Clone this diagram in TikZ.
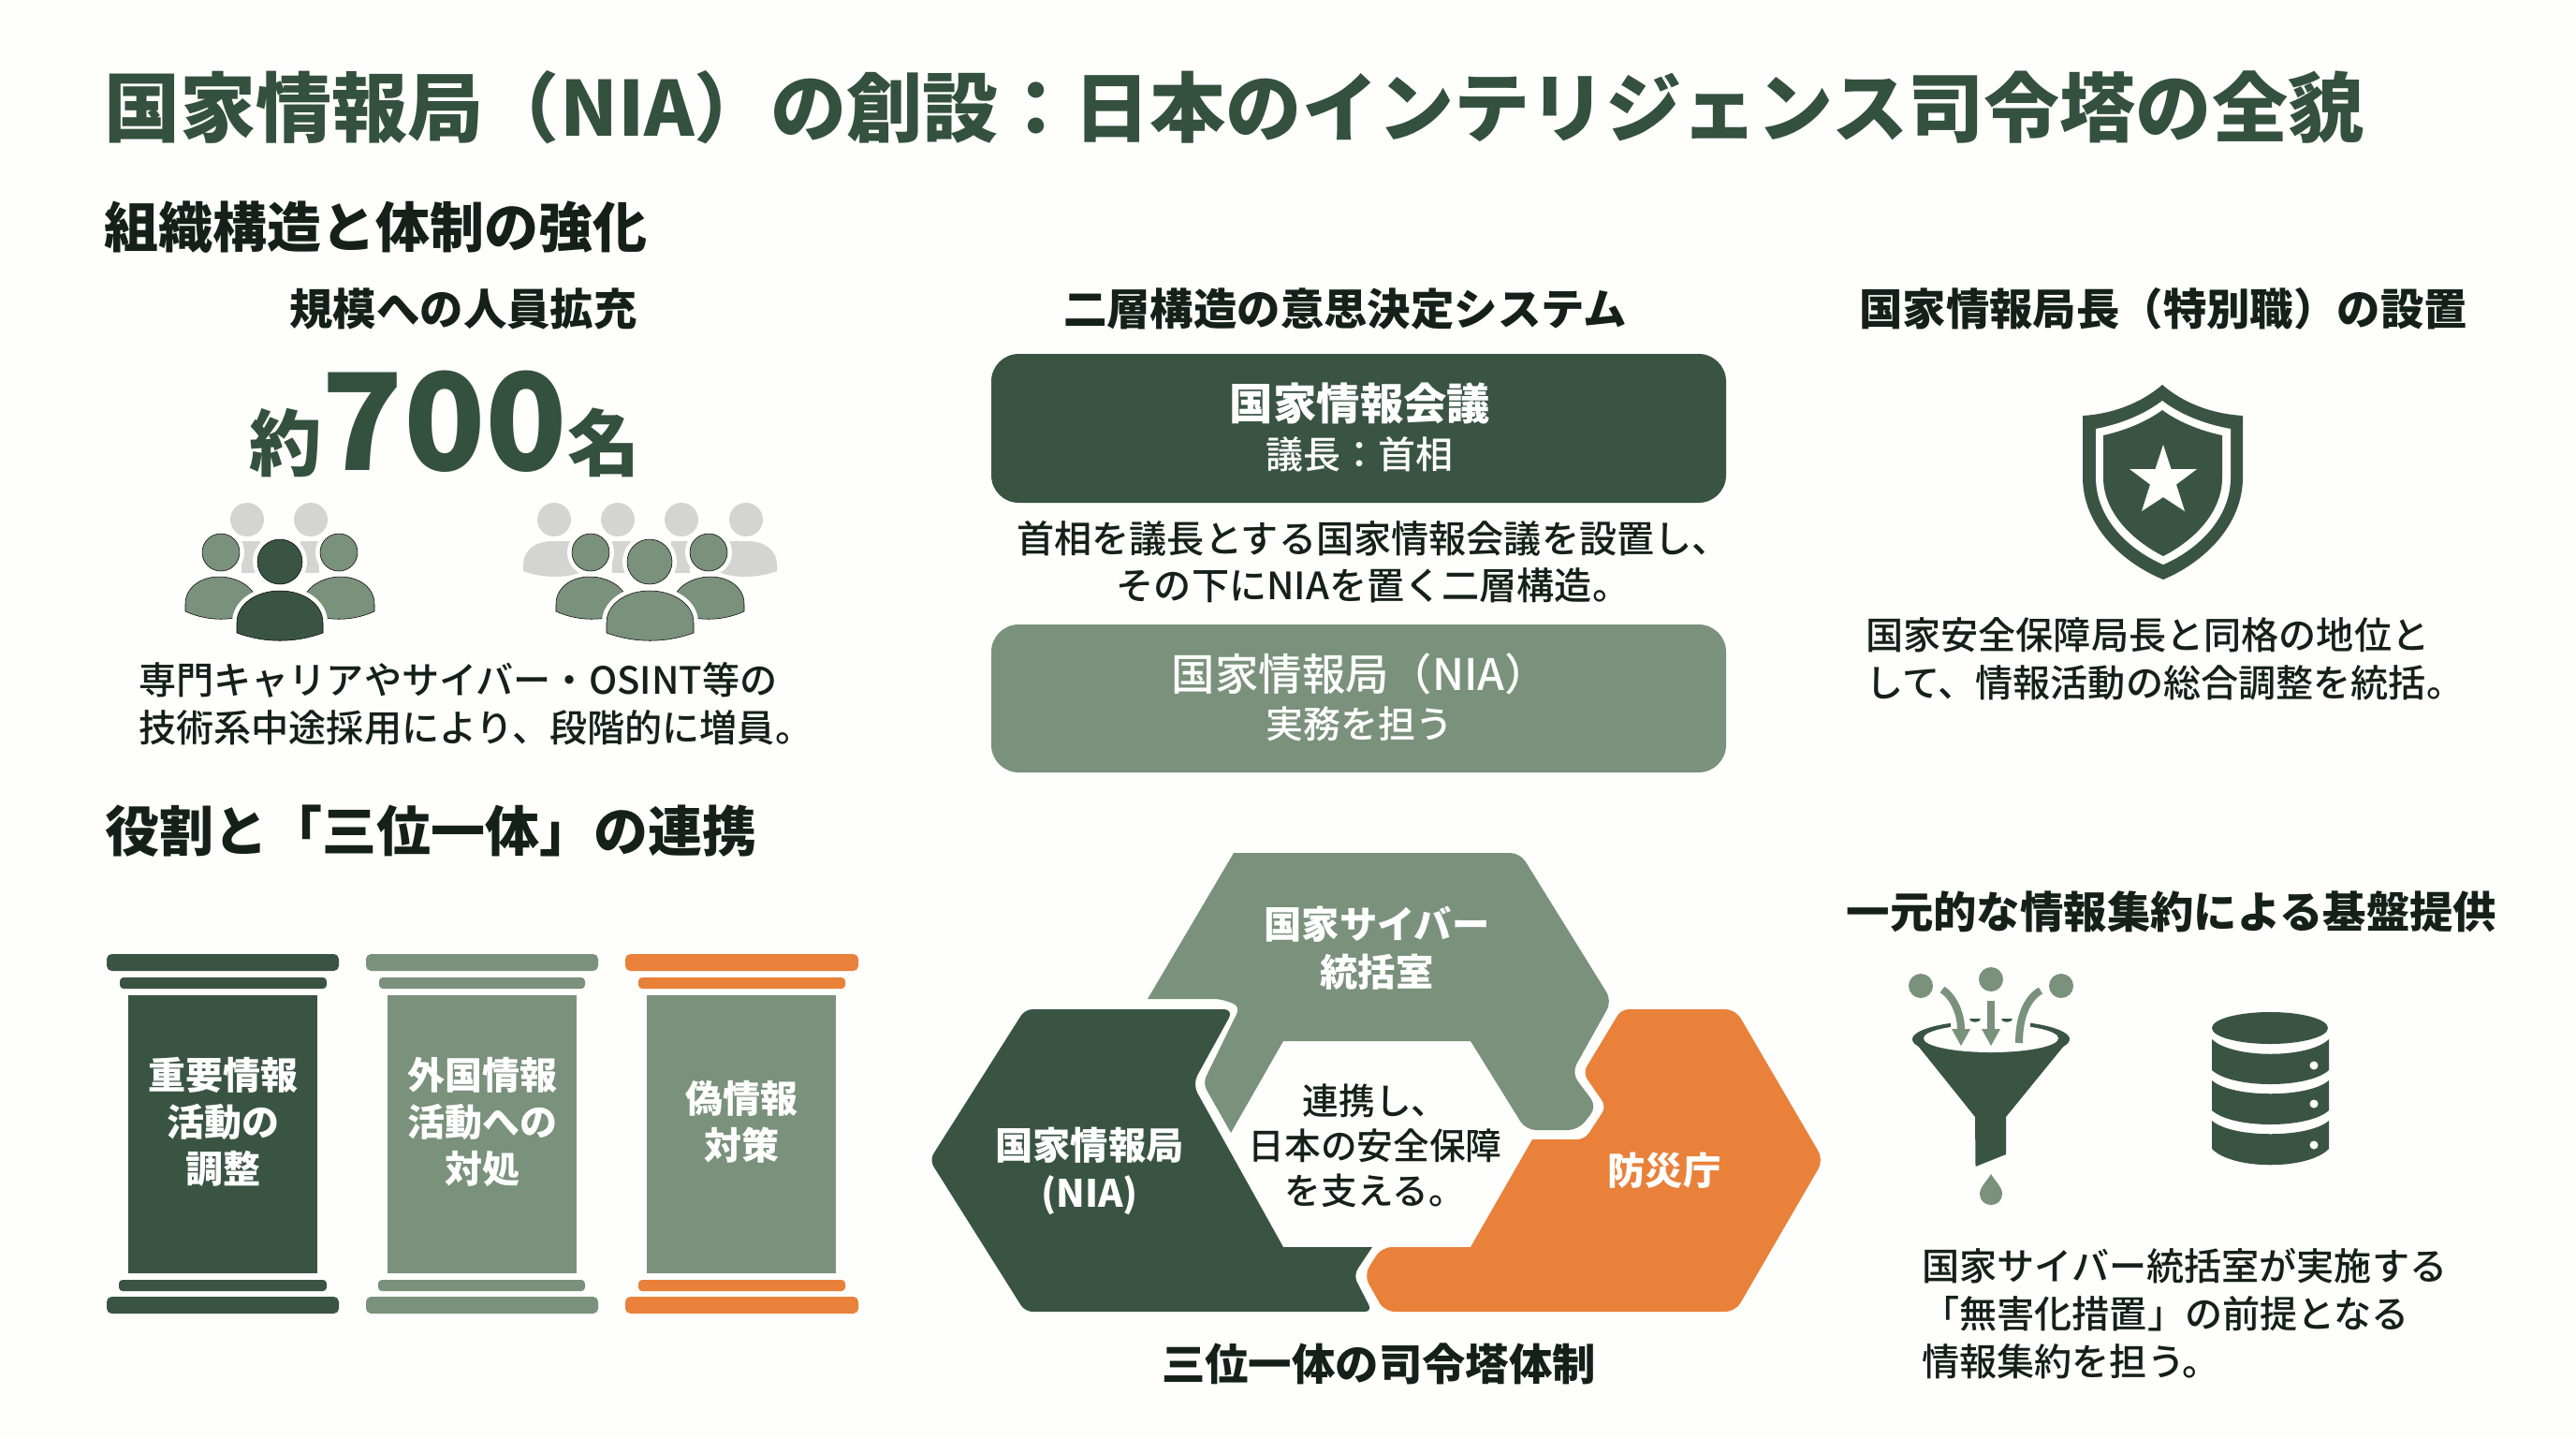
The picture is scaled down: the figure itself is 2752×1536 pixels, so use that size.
\documentclass[tikz,border=0pt]{standalone}
\usepackage{fontspec}
\setmainfont{Noto Sans CJK JP}
\newfontfamily\medfont{Noto Sans CJK JP Medium}
\usepackage{xcolor}
\definecolor{niapaper}{HTML}{FEFEFC}
\definecolor{niadark}{HTML}{3A5444}
\definecolor{niamid}{HTML}{7A917C}
\definecolor{niaorange}{HTML}{E9813A}
\definecolor{niagray}{HTML}{D4D4D2}
\definecolor{nialtitle}{HTML}{34503F}
\definecolor{niaink}{HTML}{15201B}
\tikzset{
  titletext/.style={anchor=west,inner sep=0.75pt,text=nialtitle,font=\bfseries\fontsize{60.85}{70}\selectfont},
  sectiontext/.style={anchor=west,inner sep=0.75pt,text=niaink,font=\bfseries\fontsize{43.5}{50}\selectfont},
  headtext/.style={inner sep=0.75pt,text=niaink,font=\bfseries\fontsize{34.8}{42}\selectfont},
  bodytext/.style={inner sep=0.75pt,text=niaink,font=\medfont\fontsize{30.1}{38}\selectfont},
  boxhead/.style={inner sep=0.75pt,text=white,font=\bfseries\fontsize{34.8}{42}\selectfont},
  boxsub/.style={inner sep=0.75pt,text=white,font=\medfont\fontsize{30}{38}\selectfont},
  pillartext/.style={inner sep=0.75pt,align=center,text=white,font=\bfseries\fontsize{30}{37.5}\selectfont},
  hextext/.style={inner sep=0.75pt,align=center,text=white,font=\bfseries\fontsize{30.2}{38}\selectfont},
  ringdark/.style={fill=niadark,preaction={draw=niapaper,line width=7.5pt}},
  ringmid/.style={fill=niamid,preaction={draw=niapaper,line width=7.5pt}}
}
\begin{document}
\begin{tikzpicture}[x=0.75pt,y=0.75pt,yscale=-1,xscale=1]
        %Shape: Paper
        \fill [niapaper] (0,0) rectangle (2752,1536);
        \useasboundingbox (0,0) rectangle (2752,1536);

        % Text Node
        \draw (110,115) node (maintitle) [titletext] {国家情報局（NIA）の創設：日本のインテリジェンス司令塔の全貌};
        % Text Node
        \draw (110,243) node (orgsection) [sectiontext] {組織構造と体制の強化};
        % Text Node
        \draw (111,888) node (rolesection) [sectiontext] {役割と「三位一体」の連携};

        % Text Node
        \draw (495,330) node (stafftitle) [headtext] {規模への人員拡充};
        % Text Node
        \draw (475,502) node (staffcount) [anchor=base,inner sep=0.75pt,text=nialtitle,font=\bfseries] {\fontsize{58}{60}\selectfont 約\fontsize{108}{114}\selectfont 700\fontsize{58}{60}\selectfont 名};

        %Shape: People, left group, back row
        \fill [niagray] (264,555) circle (18);
        \fill [niagray] (332,555) circle (18);
        \fill [niagray] (258,578) rectangle (278,612);
        \fill [niagray] (321,578) rectangle (341,612);
        %Shape: People, left group, middle row
        \draw [ringmid] (236,590) circle (20);
        \draw [ringmid] (362,590) circle (20);
        \draw [ringmid] (198,653) -- (198,645) .. controls (198,628) and (214,616) .. (234,616) .. controls (254,616) and (274,628) .. (274,645) -- (274,653) .. controls (250,664) and (222,664) .. (198,653) -- cycle ;
        \draw [ringmid] (324,653) -- (324,645) .. controls (324,628) and (344,616) .. (364,616) .. controls (384,616) and (400,628) .. (400,645) -- (400,653) .. controls (376,664) and (348,664) .. (324,653) -- cycle ;
        %Shape: People, left group, front
        \draw [ringdark] (299,600) circle (24);
        \draw [ringdark] (253,676) -- (253,665) .. controls (253,645) and (274,631) .. (299,631) .. controls (324,631) and (345,645) .. (345,665) -- (345,676) .. controls (315,687) and (283,687) .. (253,676) -- cycle ;

        %Shape: People, right group, back row
        \fill [niagray] (592,555) circle (18);
        \fill [niagray] (660,555) circle (18);
        \fill [niagray] (728,555) circle (18);
        \fill [niagray] (797,555) circle (18);
        \fill [niagray] (654,578) rectangle (674,612);
        \fill [niagray] (717,578) rectangle (737,612);
        \fill [niagray] (559,610) -- (559,603) .. controls (559,588) and (572,578) .. (590,578) -- (610,578) -- (620,612) .. controls (600,618) and (578,617) .. (559,610) -- cycle ;
        \fill [niagray] (830,610) -- (830,603) .. controls (830,588) and (817,578) .. (799,578) -- (779,578) -- (769,612) .. controls (789,618) and (811,617) .. (830,610) -- cycle ;
        %Shape: People, right group, middle row
        \draw [ringmid] (631,590) circle (20);
        \draw [ringmid] (757,590) circle (20);
        \draw [ringmid] (594,653) -- (594,645) .. controls (594,628) and (610,616) .. (630,616) .. controls (650,616) and (670,628) .. (670,645) -- (670,653) .. controls (646,664) and (618,664) .. (594,653) -- cycle ;
        \draw [ringmid] (719,653) -- (719,645) .. controls (719,628) and (739,616) .. (759,616) .. controls (779,616) and (795,628) .. (795,645) -- (795,653) .. controls (771,664) and (743,664) .. (719,653) -- cycle ;
        %Shape: People, right group, front
        \draw [ringmid] (694,600) circle (24);
        \draw [ringmid] (648,676) -- (648,665) .. controls (648,645) and (669,631) .. (694,631) .. controls (719,631) and (741,645) .. (741,665) -- (741,676) .. controls (711,687) and (678,687) .. (648,676) -- cycle ;

        % Text Node
        \draw (147,752) node (staffnote) [bodytext,anchor=west,align=left] {専門キャリアやサイバー・OSINT等の\\技術系中途採用により、段階的に増員。};

        %Shape: Pillar one
        \fill [niadark,rounded corners=4pt] (114,1019) rectangle (362,1037);
        \fill [niadark,rounded corners=3pt] (128,1044) rectangle (349,1056);
        \fill [niadark] (137,1063) rectangle (339,1360);
        \fill [niadark,rounded corners=3pt] (127,1367) rectangle (349,1379);
        \fill [niadark,rounded corners=4pt] (114,1385) rectangle (362,1403);
        %Shape: Pillar two
        \fill [niamid,rounded corners=4pt] (391,1019) rectangle (639,1037);
        \fill [niamid,rounded corners=3pt] (405,1044) rectangle (625,1056);
        \fill [niamid] (414,1063) rectangle (616,1360);
        \fill [niamid,rounded corners=3pt] (404,1367) rectangle (625,1379);
        \fill [niamid,rounded corners=4pt] (391,1385) rectangle (639,1403);
        %Shape: Pillar three
        \fill [niaorange,rounded corners=4pt] (668,1019) rectangle (917,1037);
        \fill [niaorange,rounded corners=3pt] (682,1044) rectangle (903,1056);
        \fill [niamid] (691,1063) rectangle (893,1360);
        \fill [niaorange,rounded corners=3pt] (682,1367) rectangle (903,1379);
        \fill [niaorange,rounded corners=4pt] (668,1385) rectangle (917,1403);
        % Text Node
        \draw (238,1198) node (pillarone) [pillartext] {重要情報\\活動の\\調整};
        % Text Node
        \draw (515,1198) node (pillartwo) [pillartext] {外国情報\\活動への\\対処};
        % Text Node
        \draw (792,1198) node (pillarthree) [pillartext] {偽情報\\対策};

        % Text Node
        \draw (1437,330) node (tiertitle) [headtext] {二層構造の意思決定システム};
        %Shape: Council box
        \fill [niadark,rounded corners=22pt] (1059,378) rectangle (1844,537);
        % Text Node
        \draw (1453,431) node (councilname) [boxhead] {国家情報会議};
        % Text Node
        \draw (1452,485) node (councilchair) [boxsub] {議長：首相};
        % Text Node
        \draw (1467,600) node (tiernote) [bodytext,align=center] {首相を議長とする国家情報会議を設置し、\\その下にNIAを置く二層構造。};
        %Shape: Agency box
        \fill [niamid,rounded corners=22pt] (1059,667) rectangle (1844,825);
        % Text Node
        \draw (1453,720) node (agencyname) [boxhead,font=\medfont\fontsize{34.8}{42}\selectfont] {国家情報局（NIA）};
        % Text Node
        \draw (1452,773) node (agencyduty) [boxsub] {実務を担う};

        % Text Node
        \draw (2311,330) node (chieftitle) [headtext] {国家情報局長（特別職）の設置};
        %Shape: Shield outer
        \fill [niadark] (2310,411) .. controls (2288,430) and (2258,442) .. (2225,444) -- (2225,510) .. controls (2225,560) and (2265,600) .. (2311,619) .. controls (2356,600) and (2396,560) .. (2396,510) -- (2396,444) .. controls (2362,442) and (2332,430) .. (2310,411) -- cycle ;
        %Shape: Shield band
        \fill [niapaper] (2310,428) .. controls (2292,442) and (2266,453) .. (2239,458) -- (2239,510) .. controls (2239,552) and (2272,586) .. (2311,603) .. controls (2350,586) and (2383,552) .. (2383,510) -- (2383,458) .. controls (2354,453) and (2328,442) .. (2310,428) -- cycle ;
        %Shape: Shield inner
        \fill [niadark] (2310,438) .. controls (2294,450) and (2270,460) .. (2247,465) -- (2247,510) .. controls (2247,546) and (2276,576) .. (2311,594) .. controls (2346,576) and (2374,546) .. (2374,510) -- (2374,465) .. controls (2350,460) and (2326,450) .. (2310,438) -- cycle ;
        %Shape: Star
        \fill [niapaper] (2311,475) -- (2319.5,501) -- (2347,501) -- (2325,517.5) -- (2334,546) -- (2311,531) -- (2288,546) -- (2297,517.5) -- (2275,501) -- (2302.5,501) -- cycle ;
        % Text Node
        \draw (1992,704) node (chiefnote) [bodytext,anchor=west,align=left] {国家安全保障局長と同格の地位と\\して、情報活動の総合調整を統括。};

        %Shape: Cyber hexagon
        \fill [niamid,rounded corners=8pt] (1318,911) -- (1624,911) -- (1722,1069) -- (1679,1146) -- (1706,1182) -- (1686,1207) -- (1630,1207) [sharp corners] -- (1571,1112) -- (1371,1112) -- (1315,1210) [rounded corners=6pt] -- (1285,1157) -- (1325,1075) -- (1305,1067) [sharp corners] -- (1226,1067) -- cycle ;
        %Shape: Agency hexagon
        \fill [niadark,rounded corners=8pt] (1095,1078) -- (1318,1078) -- (1274,1158) [sharp corners] -- (1371,1332) -- (1466,1332) [rounded corners=6pt] -- (1446,1362) -- (1466,1401) -- (1095,1401) -- (993,1239) -- cycle ;
        %Shape: Disaster hexagon
        \fill [niaorange,rounded corners=8pt] (1732,1078) -- (1854,1078) -- (1948,1239) -- (1854,1401) -- (1479,1401) -- (1457,1362) -- (1476,1332) [sharp corners] -- (1571,1332) -- (1637,1217) [rounded corners=6pt] -- (1693,1217) -- (1716,1182) -- (1691,1146) -- cycle ;
        % Text Node
        \draw (1471,1013) node (cyberlabel) [hextext] {国家サイバー\\統括室};
        % Text Node
        \draw (1164,1251) node (agencylabel) [hextext] {国家情報局\\(NIA)};
        % Text Node
        \draw (1778,1250) node (disasterlabel) [hextext] {防災庁};
        % Text Node
        \draw (1469,1224) node (hubnote) [bodytext,align=center,font=\medfont\fontsize{29}{36}\selectfont] {連携し、\\日本の安全保障\\を支える。};
        % Text Node
        \draw (1473,1457) node (hubtitle) [headtext] {三位一体の司令塔体制};

        % Text Node
        \draw (2320,974) node (basetitle) [headtext] {一元的な情報集約による基盤提供};

        %Shape: Funnel
        \fill [niadark] (2127,1110) ellipse (84 and 20);
        \fill [niadark] (2045,1112) -- (2110,1193) -- (2110.5,1246) -- (2143,1233) -- (2143,1193) -- (2209,1112) -- cycle ;
        \fill [niapaper] (2127,1109) ellipse (72 and 15);
        \fill [niapaper] (2084,1086) rectangle (2169,1100);
        \fill [niadark] (2104,1088) -- (2116,1088) .. controls (2116,1093) and (2104,1093) .. (2104,1088) -- cycle ;
        \fill [niadark] (2138,1088) -- (2150,1088) .. controls (2150,1093) and (2138,1093) .. (2138,1088) -- cycle ;
        %Shape: Funnel inputs
        \fill [niamid] (2052,1053) circle (13);
        \fill [niamid] (2127,1046) circle (13);
        \fill [niamid] (2202,1053) circle (13);
        \draw [niamid,line width=6pt] (2075,1057) .. controls (2085,1063) and (2095,1080) .. (2095,1100);
        \fill [niamid] (2085,1099) -- (2105,1099) -- (2095,1117) -- cycle ;
        \draw [niamid,line width=6pt] (2127,1069) -- (2127,1100);
        \fill [niamid] (2117,1099) -- (2137,1099) -- (2127,1117) -- cycle ;
        \draw [niamid,line width=6pt] (2180,1058) .. controls (2166,1066) and (2157,1085) .. (2157,1114);
        %Shape: Drop
        \fill [niamid] (2127,1254) .. controls (2131,1261) and (2139,1268) .. (2139,1275) .. controls (2139,1282) and (2134,1287) .. (2127,1287) .. controls (2120,1287) and (2115,1282) .. (2115,1275) .. controls (2115,1268) and (2123,1261) .. (2127,1254) -- cycle ;

        %Shape: Database
        \fill [niadark] (2425,1098) ellipse (62 and 17);
        \fill [niadark] (2363,1110) .. controls (2385,1131) and (2466,1131) .. (2488,1110) -- (2488,1143) .. controls (2466,1163) and (2385,1163) .. (2363,1143) -- cycle ;
        \fill [niadark] (2363,1154) .. controls (2385,1173) and (2466,1173) .. (2488,1154) -- (2488,1186) .. controls (2466,1206) and (2385,1206) .. (2363,1186) -- cycle ;
        \fill [niadark] (2363,1197) .. controls (2385,1216) and (2466,1216) .. (2488,1197) -- (2488,1227) .. controls (2466,1250) and (2385,1250) .. (2363,1227) -- cycle ;
        \fill [niapaper] (2472,1138) circle (4.5);
        \fill [niapaper] (2472,1179) circle (4.5);
        \fill [niapaper] (2472,1223) circle (4.5);

        % Text Node
        \draw (2052,1403) node (basenote) [bodytext,anchor=west,align=left] {国家サイバー統括室が実施する\\「無害化措置」の前提となる\\情報集約を担う。};
\end{tikzpicture}
\end{document}
